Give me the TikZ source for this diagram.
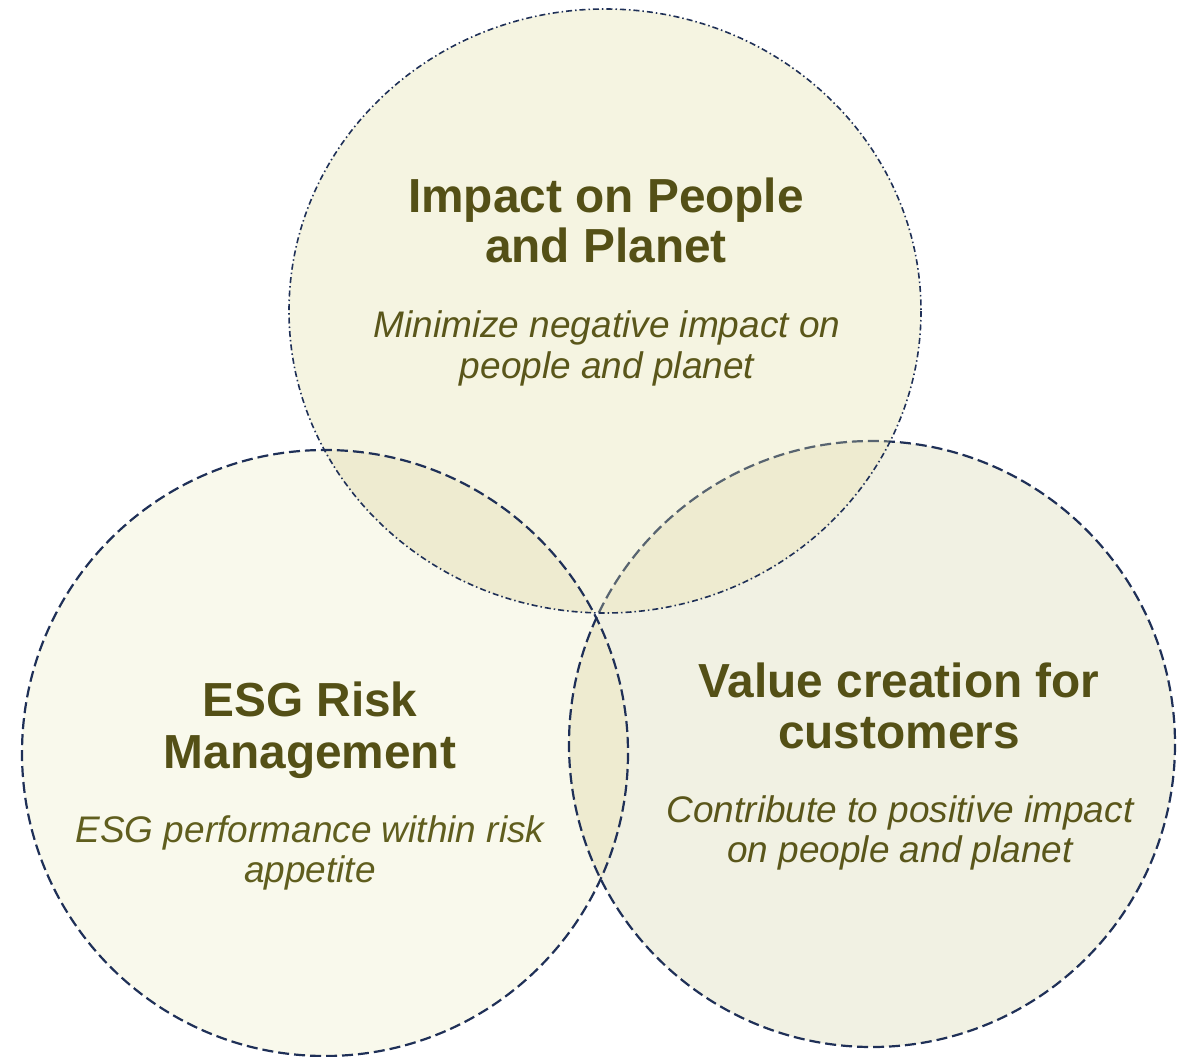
\documentclass[tikz,border=0pt]{standalone}
\usepackage{fontspec}
\setmainfont{Liberation Sans}
\begin{document}
\begin{tikzpicture}[x=1pt,y=-1pt,
  navy/.style={draw={rgb,255:red,31;green,48;blue,87}},
  dashline/.style={navy, line width=2.2pt, dash pattern=on 11pt off 5pt},
  dashdotline/.style={navy, line width=1.6pt, dash pattern=on 6pt off 3pt on 1.5pt off 3pt},
  title/.style={font=\fontsize{47.8}{50}\selectfont\bfseries, text={rgb,255:red,84;green,80;blue,22}, anchor=base, inner sep=0pt},
  sub/.style={font=\fontsize{37}{40}\selectfont\itshape, text={rgb,255:red,90;green,86;blue,26}, anchor=base, inner sep=0pt}
]
\definecolor{topfill}{RGB}{245,244,225}
\definecolor{leftfill}{RGB}{249,249,236}
\definecolor{rightfill}{RGB}{241,241,227}
\definecolor{overlap}{RGB}{238,235,208}
\useasboundingbox (0,0) rectangle (1187,1057);
\coordinate (T) at (605,311);
\coordinate (L) at (325,753);
\coordinate (R) at (872,744);
\def\topshape{(T) ellipse [x radius=316, y radius=302]}
% fills
\fill[leftfill] (L) circle (303);
\fill[rightfill] (R) circle (303);
\fill[topfill] \topshape;
\begin{scope}\clip \topshape; \fill[overlap] (L) circle (303); \fill[overlap] (R) circle (303);\end{scope}
\begin{scope}\clip (L) circle (303); \fill[overlap] (R) circle (303);\end{scope}
% borders
\draw[dashline] (L) circle (303);
\begin{scope}[even odd rule]
  \clip (-10,-10) rectangle (1200,1070) \topshape;
  \draw[dashline] (R) circle (303);
\end{scope}
\begin{scope}
  \clip \topshape;
  \draw[dashline, draw={rgb,255:red,88;green,100;blue,112}] (R) circle (303);
\end{scope}
\draw[dashdotline] \topshape;
% texts
\node[title] (t1) at (606,212) {Impact on People};
\node[title] (t2) at (606,262) {and Planet};
\node[sub] (s1) at (607,337) {Minimize negative impact on};
\node[sub] (s2) at (607,378) {people and planet};
\node[title] (l1) at (310,716) {ESG Risk};
\node[title] (l2) at (310,768) {Management};
\node[sub, text={rgb,255:red,96;green,94;blue,30}] (ls1) at (310,842) {ESG performance within risk};
\node[sub, text={rgb,255:red,96;green,94;blue,30}] (ls2) at (310,882) {appetite};
\node[title] (r1) at (899,697) {Value creation for};
\node[title] (r2) at (899,748) {customers};
\node[sub] (rs1) at (900,822) {Contribute to positive impact};
\node[sub] (rs2) at (900,862) {on people and planet};
\end{tikzpicture}
\end{document}
